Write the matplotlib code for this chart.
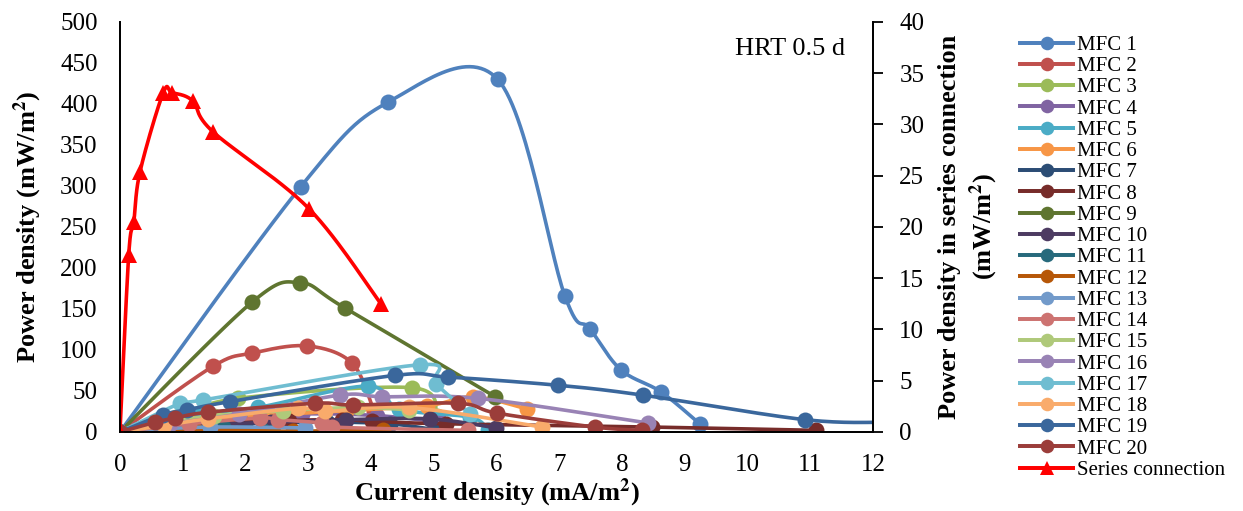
import numpy as np
import matplotlib
matplotlib.use("Agg")
import matplotlib.pyplot as plt
from matplotlib.lines import Line2D

plt.rcParams['font.family'] = ['Liberation Serif', 'DejaVu Serif']
plt.rcParams['mathtext.fontset'] = 'stix'

# ---------------- data ----------------
mfc_names = [f"MFC {i}" for i in range(1, 21)]
mfc_colors = ["#4F81BD", "#C0504D", "#9BBB59", "#8064A2", "#4BACC6", "#F79646",
              "#2C4D75", "#772C2A", "#5F7530", "#4D3B62", "#276A7C", "#B65708",
              "#729ACA", "#CD7371", "#AFC97A", "#9983B5", "#6FBDD1", "#F9AB6B",
              "#3A679C", "#9B3D3A"]

x1 = [0, 2.88, 4.27, 6.02, 7.09, 7.49, 7.98, 8.62, 9.24]
y1 = [0, 299, 402, 430, 166, 126, 76, 49, 10]
x2 = [0, 1.48, 2.10, 2.98, 3.70, 4.05]
y2 = [0, 80, 96, 105, 84, 25]
x3 = [0, 0.9, 1.88, 4.65, 5.05]
y3 = [0, 18, 41, 54, 20]
x4 = [0, 0.7, 1.6, 2.9, 4.1, 5.1]
y4 = [0, 8, 16, 22, 20, 12]
x5 = [0, 0.6, 1.2, 2.2, 3.95, 4.45, 5.58, 5.86]
y5 = [0, 14, 22, 30, 56, 28, 18, 3]
x6 = [0, 1.1, 2.3, 3.6, 4.9, 5.63, 6.49]
y6 = [0, 12, 20, 26, 32, 43, 28]
x7 = [0, 0.9, 2.0, 3.3, 4.3, 5.0]
y7 = [0, 6, 10, 12, 10, 3]
x8 = [0, 1.5, 2.7, 3.54, 4.02, 5.2, 8.48, 11.1]
y8 = [0, 10, 14, 15, 13, 10, 6, 2]
x9 = [0, 2.10, 2.87, 3.59, 5.98]
y9 = [0, 158, 182, 151, 43]
x10 = [0, 1.2, 2.4, 3.6, 4.94, 6.0]
y10 = [0, 8, 12, 15, 16, 5]
x11 = [0, 0.6, 1.64, 2.26, 2.44]
y11 = [0, 3, 6, 2, 0]
x12 = [0, 1.2, 2.76, 4.19]
y12 = [0, 3, 1, 3]
x13 = [0, 0.25, 1.43, 2.95]
y13 = [0, 2, 6, 5]
x14 = [0, 1.1, 2.23, 2.52, 3.22, 3.38, 5.55]
y14 = [0, 10, 17, 15, 11, 6, 2]
x15 = [0, 0.8, 1.5, 2.6, 3.8, 4.6]
y15 = [0, 12, 20, 26, 30, 27]
x16 = [0, 0.8, 1.9, 3.51, 4.18, 5.71, 8.41]
y16 = [0, 10, 22, 45, 43, 41, 11]
x17 = [0, 0.96, 1.32, 4.78, 5.03, 5.58]
y17 = [0, 35, 39, 82, 59, 22]
x18 = [0, 0.7, 1.4, 2.84, 3.27, 4.6, 6.73]
y18 = [0, 8, 16, 29, 25, 30, 6]
x19 = [0, 0.69, 1.07, 1.75, 4.38, 5.23, 6.98, 8.33, 10.92, 12.3]
y19 = [0, 21, 27, 37, 69, 67, 57, 45, 15, 12]
x20 = [0, 0.56, 0.88, 1.40, 3.11, 3.71, 5.39, 6.01, 7.57, 8.32]
y20 = [0, 12, 17, 24, 35, 33, 35, 23, 6, 2]

mfc_x = [x1, x2, x3, x4, x5, x6, x7, x8, x9, x10,
         x11, x12, x13, x14, x15, x16, x17, x18, x19, x20]
mfc_y = [y1, y2, y3, y4, y5, y6, y7, y8, y9, y10,
         y11, y12, y13, y14, y15, y16, y17, y18, y19, y20]

series_x = [0, 0.14, 0.22, 0.32, 0.69, 0.83, 1.16, 1.48, 3.01, 4.16]
series_y = [0, 17.3, 20.5, 25.4, 33.1, 33.1, 32.3, 29.3, 21.8, 12.5]


def smooth(xs, ys, n=30):
    """Excel-like smoothed line (Catmull-Rom Bezier through points)."""
    p = np.column_stack([xs, ys]).astype(float)
    if len(p) < 3:
        return p[:, 0], p[:, 1]
    out = [p[0]]
    for i in range(len(p) - 1):
        p0 = p[i - 1] if i > 0 else p[i]
        p1 = p[i]
        p2 = p[i + 1]
        p3 = p[i + 2] if i + 2 < len(p) else p[i + 1]
        c1 = p1 + (p2 - p0) / 6.0
        c2 = p2 - (p3 - p1) / 6.0
        t = np.linspace(0, 1, n)[1:, None]
        seg = ((1 - t) ** 3) * p1 + 3 * ((1 - t) ** 2) * t * c1 + 3 * (1 - t) * t ** 2 * c2 + t ** 3 * p2
        out.extend(seg)
    out = np.array(out)
    return out[:, 0], out[:, 1]


fig = plt.figure(figsize=(12.43, 5.11), dpi=100)
ax = fig.add_axes([0.0965, 0.1546, 0.6058, 0.8024])
ax2 = ax.twinx()

lw = 2.6
ms = 11.5
handles = []
for name, c, xs, ys in zip(mfc_names, mfc_colors, mfc_x, mfc_y):
    sx, sy = smooth(xs, ys)
    ax.plot(sx, sy, color=c, lw=lw, solid_capstyle='round')
    ax.plot(xs, ys, linestyle='none', marker='o', ms=ms, color=c, mew=0)
    handles.append(Line2D([], [], color=c, lw=lw * 1.1, marker='o', ms=ms * 0.85, mew=0, label=name))

sx, sy = smooth(series_x, series_y)
ax2.plot(sx, sy, color='#FF0000', lw=lw)
ax2.plot(series_x, series_y, linestyle='none', marker='^', ms=ms * 1.05, color='#FF0000', mew=0)
handles.append(Line2D([], [], color='#FF0000', lw=lw * 1.1, marker='^', ms=ms * 0.85, mew=0,
                      label='Series connection'))

ax.set_xlim(0, 12)
ax.set_ylim(0, 500)
ax2.set_ylim(0, 40)
ax.set_xticks(np.arange(0, 13, 1))
ax.set_yticks(np.arange(0, 501, 50))
ax2.set_yticks(np.arange(0, 41, 5))

for a in (ax, ax2):
    a.spines['top'].set_visible(False)
    for s in a.spines.values():
        s.set_linewidth(1.3)
        s.set_color('black')
ax.tick_params(length=0, labelsize=18, colors='black', pad=16)
ax2.tick_params(direction='out', length=7, width=1.3, labelsize=18, colors='black', pad=12)

ax.set_xlabel('Current density (mA/m$^\\mathbf{2}$)', fontsize=19, fontweight='bold', labelpad=0.5)
ax.set_ylabel('Power density (mW/m$^\\mathbf{2}$)', fontsize=19, fontweight='bold', labelpad=12)
ax2.set_ylabel('Power density in series connection\n(mW/m$^\\mathbf{2}$)', fontsize=19,
               fontweight='bold', labelpad=10, linespacing=1.25)

ax.text(0.963, 0.933, 'HRT 0.5 d', transform=ax.transAxes, fontsize=19,
        ha='right', va='center')

fig.legend(handles=handles, loc='upper left', bbox_to_anchor=(0.814, 0.947),
           frameon=False, fontsize=15, labelspacing=0.08, handlelength=2.55,
           handletextpad=0.2, borderaxespad=0)

fig.savefig('out.png', dpi=100)
